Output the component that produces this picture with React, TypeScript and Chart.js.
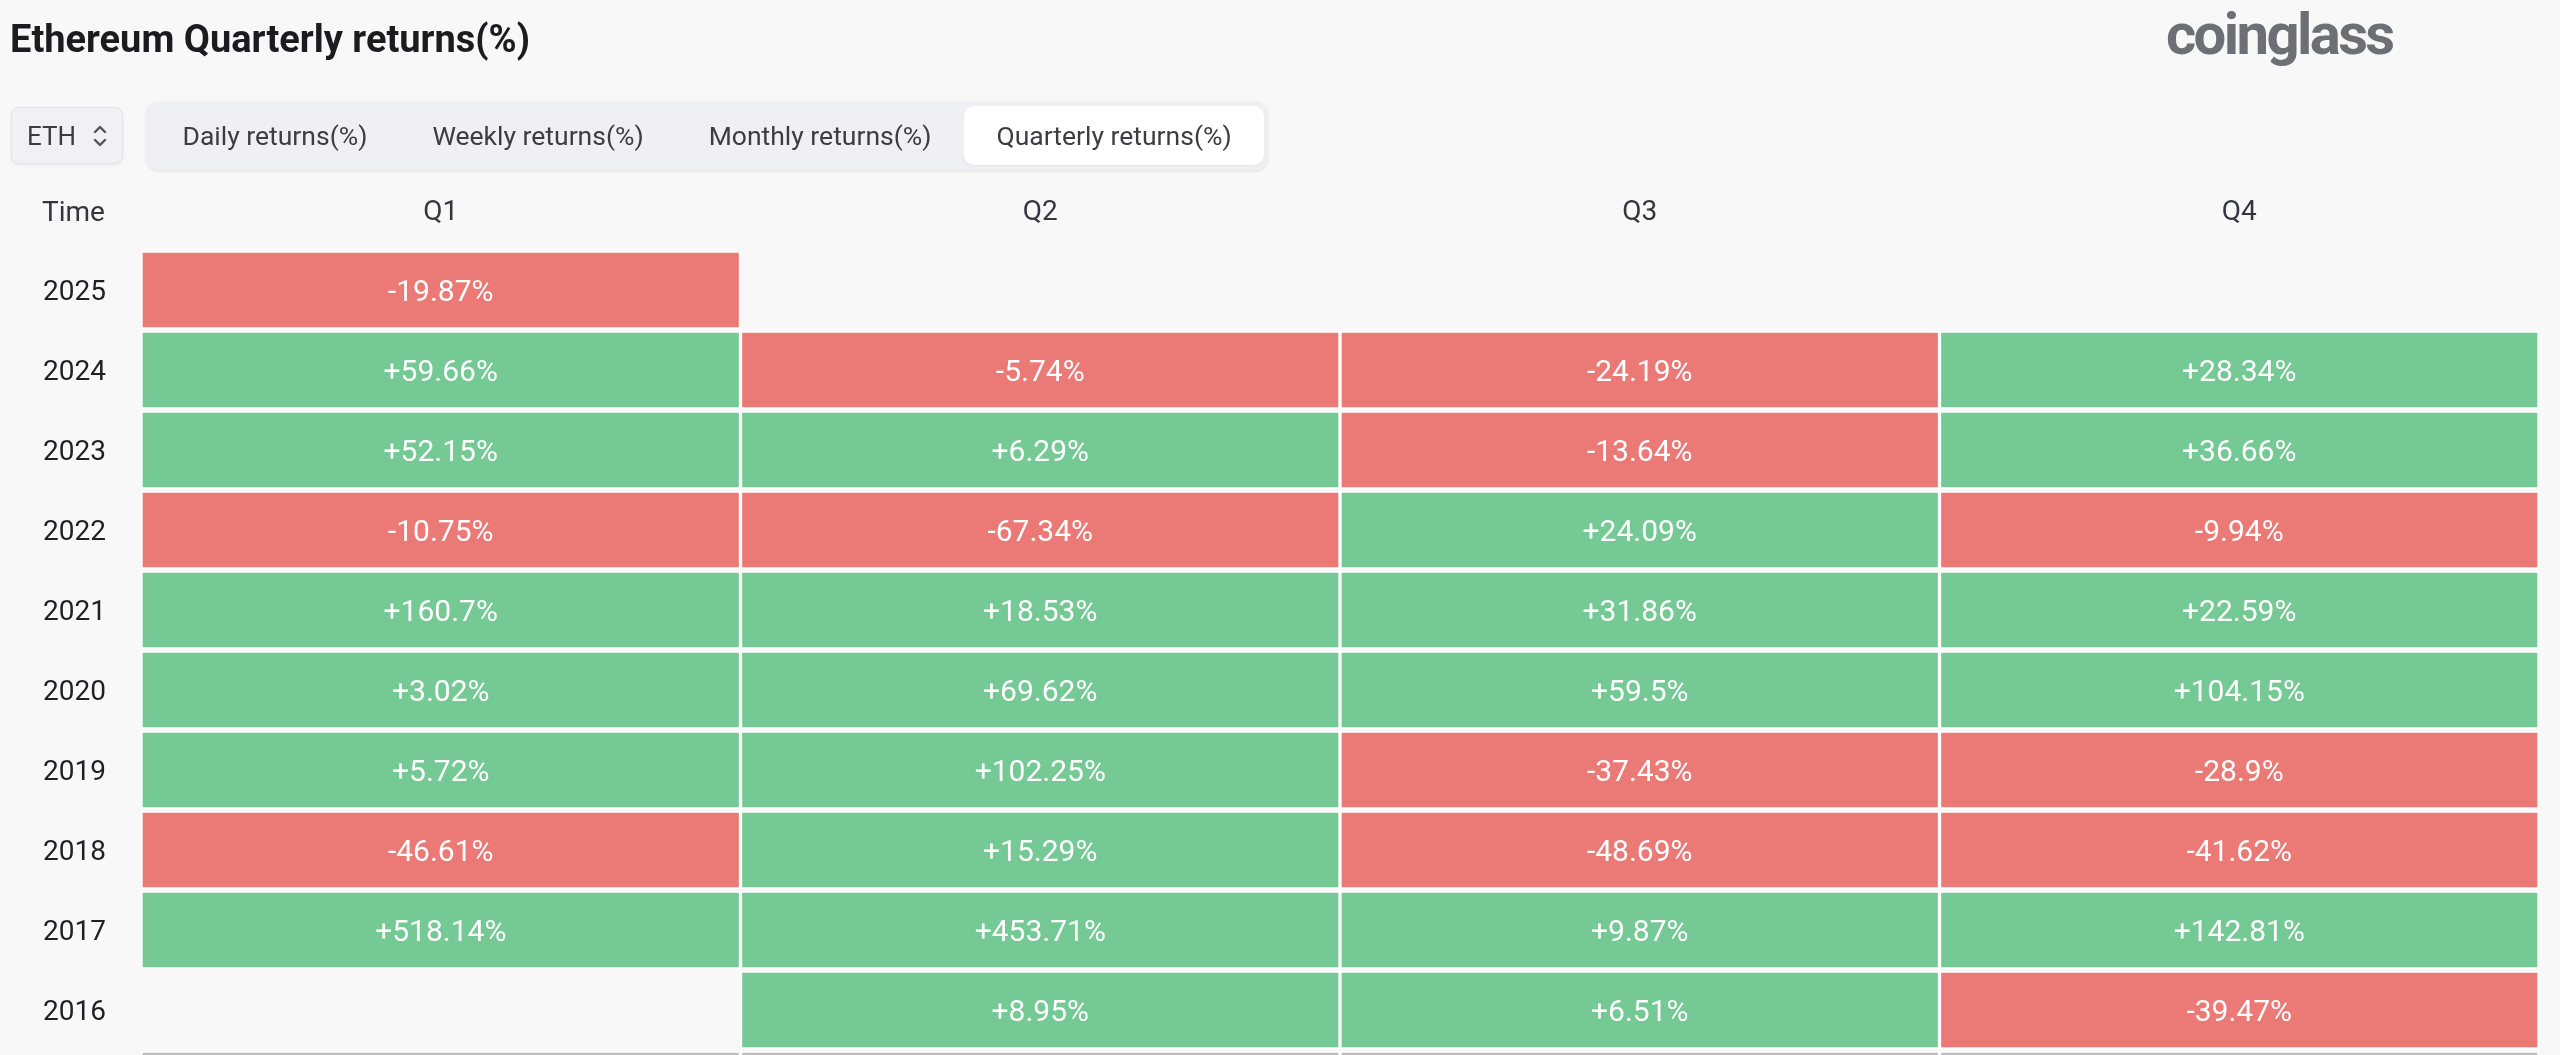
import React, { useEffect, useRef } from "react";
import { Chart, registerables } from "chart.js";

Chart.register(...registerables);

// ---------- data ----------
const years = ["2025", "2024", "2023", "2022", "2021", "2020", "2019", "2018", "2017", "2016"];
const quarters = ["Q1", "Q2", "Q3", "Q4"];
const q1Returns: (number | null)[] = [-19.87, 59.66, 52.15, -10.75, 160.7, 3.02, 5.72, -46.61, 518.14, null];
const q2Returns: (number | null)[] = [null, -5.74, 6.29, -67.34, 18.53, 69.62, 102.25, 15.29, 453.71, 8.95];
const q3Returns: (number | null)[] = [null, -24.19, -13.64, 24.09, 31.86, 59.5, -37.43, -48.69, 9.87, 6.51];
const q4Returns: (number | null)[] = [null, 28.34, 36.66, -9.94, 22.59, 104.15, -28.9, -41.62, 142.81, -39.47];
// summary row below the years (only its top edge is visible in the view)
const summaryRowLabel = "Average";
const summaryRowQuarters = ["Q1", "Q2", "Q3", "Q4"];

const tabs = ["Daily returns(%)", "Weekly returns(%)", "Monthly returns(%)", "Quarterly returns(%)"];
const activeTab = "Quarterly returns(%)";

const columns = [q1Returns, q2Returns, q3Returns, q4Returns];

const GREEN = "#74c994";
const RED = "#eb7975";
const GRAY = "#bdbdbd";
const ROW_INSET = 1 / 80;

const fmt = (v: number) => `${v > 0 ? "+" : ""}${v}%`;

const valueLabels = {
  id: "valueLabels",
  afterDatasetsDraw(chart: any) {
    const ctx = chart.ctx;
    ctx.save();
    const size = 30;
    ctx.font = `400 ${size}px Roboto`;
    ctx.fillStyle = "#ffffff";
    ctx.textAlign = "center";
    ctx.textBaseline = "alphabetic";
    chart.data.datasets.forEach((_ds: any, di: number) => {
      if (di >= years.length) return;
      const meta = chart.getDatasetMeta(di);
      meta.data.forEach((el: any, k: number) => {
        const v = columns[k][di];
        if (v == null) return;
        const cy = (el.y + el.base) / 2;
        ctx.fillText(fmt(v), el.x, cy + (0.711 * size) / 2);
      });
    });
    ctx.restore();
  },
};

export default function App() {
  const canvasRef = useRef<HTMLCanvasElement | null>(null);

  useEffect(() => {
    if (!canvasRef.current) return;
    const rowLabels = [...years, summaryRowLabel];
    const datasets = rowLabels.map((label, i) => {
      const isSummary = i >= years.length;
      const data = quarters.map((q, k) => {
        if (isSummary) return summaryRowQuarters.includes(q) ? [i + ROW_INSET, i + 1 - ROW_INSET] : null;
        const v = columns[k][i];
        return v == null ? null : [i + ROW_INSET, i + 1 - ROW_INSET];
      });
      const colors = quarters.map((_q, k) => {
        if (isSummary) return GRAY;
        const v = columns[k][i];
        return v != null && v >= 0 ? GREEN : RED;
      });
      return {
        label,
        data,
        backgroundColor: colors,
        borderColor: "rgba(255,255,255,0.9)",
        borderWidth: 2,
        borderSkipped: false,
        grouped: false,
        barPercentage: 1,
        categoryPercentage: 1,
      };
    });

    const chart = new Chart(canvasRef.current, {
      type: "bar",
      data: { labels: quarters, datasets: datasets as any },
      options: {
        responsive: false,
        maintainAspectRatio: false,
        animation: false,
        devicePixelRatio: 1,
        layout: { padding: { left: 43, right: 21, top: 0, bottom: 0 } },
        plugins: {
          legend: { display: false },
          tooltip: { enabled: false },
          title: { display: false },
        },
        scales: {
          x: {
            type: "category",
            position: "top",
            offset: true,
            grid: { display: false, drawTicks: false },
            border: { display: false },
            ticks: {
              color: "#33373d",
              font: { family: "Roboto", size: 28, weight: 400 as any },
              padding: 20,
              maxRotation: 0,
              autoSkip: false,
            },
            afterFit: (s: any) => {
              s.height = 250;
              s.paddingLeft = 0;
              s.paddingRight = 0;
            },
          },
          y: {
            type: "linear",
            reverse: true,
            min: 0,
            max: 10.0625,
            grid: { display: false, drawTicks: false },
            border: { display: false },
            afterBuildTicks: (s: any) => {
              s.ticks = years.map((_y, i) => ({ value: i + 0.5 }));
            },
            ticks: {
              autoSkip: false,
              crossAlign: "far",
              color: "#1d2024",
              font: { family: "Roboto", size: 28, weight: 400 as any },
              labelOffset: 3,
              padding: 0,
              callback: (_v: any, index: number) => years[index],
            },
            afterFit: (s: any) => {
              s.width = 98;
              s.paddingTop = 0;
              s.paddingBottom = 0;
            },
          },
        },
      },
      plugins: [valueLabels],
    });
    return () => chart.destroy();
  }, []);

  return (
    <div
      style={{
        position: "relative",
        width: 2560,
        height: 1055,
        overflow: "hidden",
        background: "#f8f8f8",
        fontFamily: "Roboto, sans-serif",
      }}
    >
      <style>{"html,body{margin:0;padding:0;background:#f8f8f8;overflow:hidden}"}</style>
      <canvas
        ref={canvasRef}
        width={2560}
        height={1055}
        style={{ position: "absolute", left: 0, top: 0, width: 2560, height: 1055 }}
      />
      {/* title */}
      <div
        style={{
          position: "absolute",
          left: 10,
          top: 20,
          fontSize: 38,
          lineHeight: "38px",
          fontWeight: 700,
          color: "#1b1c1f",
          whiteSpace: "nowrap",
        }}
      >
        Ethereum Quarterly returns(%)
      </div>
      {/* logo */}
      <div
        style={{
          position: "absolute",
          left: 2166,
          top: 5,
          fontSize: 58,
          lineHeight: "58px",
          fontWeight: 700,
          letterSpacing: "-2.6px",
          color: "#6c6f74",
          whiteSpace: "nowrap",
        }}
      >
        coinglass
      </div>
      {/* ETH selector */}
      <div
        style={{
          position: "absolute",
          left: 11,
          top: 107,
          width: 112,
          height: 57,
          boxSizing: "border-box",
          background: "#f0f1f5",
          border: "1px solid #e3e4e8",
          borderRadius: 8,
          boxShadow: "0 1px 3px rgba(0,0,0,0.08)",
          display: "flex",
          alignItems: "center",
          paddingLeft: 15,
          fontSize: 26,
          color: "#3a3e44",
        }}
      >
        <span>ETH</span>
        <svg width="16" height="28" viewBox="0 0 16 28" style={{ position: "absolute", left: 80 }}>
          <polyline points="3,10 8,5 13,10" fill="none" stroke="#50555c" strokeWidth="2.4" strokeLinecap="round" strokeLinejoin="round" />
          <polyline points="3,18 8,23 13,18" fill="none" stroke="#50555c" strokeWidth="2.4" strokeLinecap="round" strokeLinejoin="round" />
        </svg>
      </div>
      {/* tabs */}
      <div
        style={{
          position: "absolute",
          left: 145,
          top: 101,
          height: 69,
          boxSizing: "border-box",
          padding: 5,
          background: "#eff0f4",
          borderRadius: 14,
          boxShadow: "0 2px 2px rgba(0,0,0,0.06)",
          display: "flex",
          alignItems: "stretch",
        }}
      >
        {tabs.map((t) => (
          <div
            key={t}
            style={{
              padding: "0 32.5px",
              display: "flex",
              alignItems: "center",
              fontSize: 26.5,
              color: "#3a3e44",
              whiteSpace: "nowrap",
              background: t === activeTab ? "#ffffff" : "transparent",
              borderRadius: 10,
              boxShadow: t === activeTab ? "0 1px 2px rgba(0,0,0,0.05)" : "none",
            }}
          >
            {t}
          </div>
        ))}
      </div>
      {/* header cell */}
      <div
        style={{
          position: "absolute",
          left: 42,
          top: 198,
          fontSize: 28,
          lineHeight: "28px",
          color: "#33373d",
        }}
      >
        Time
      </div>
    </div>
  );
}
